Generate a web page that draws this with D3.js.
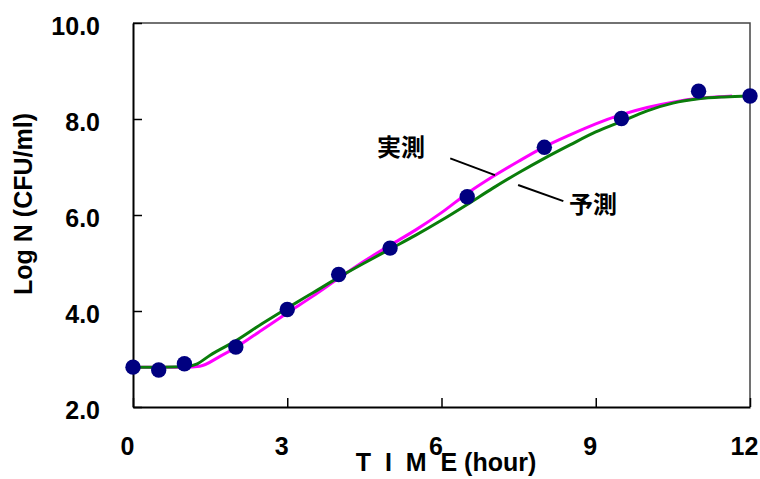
<!DOCTYPE html>
<html>
<head>
<meta charset="utf-8">
<script src="https://cdn.jsdelivr.net/npm/d3@7"></script>
<style>
  html, body { margin: 0; padding: 0; background: #fff; }
  svg { display: block; }
</style>
</head>
<body>
<div id="chart"></div>
<script>
// ---- data ----
const obsTime  = [0, 0.5, 1, 2, 3, 4, 5, 6.5, 8, 9.5, 11, 12];
const obsLogN  = [2.83, 2.77, 2.90, 3.25, 4.03, 4.76, 5.31, 6.38, 7.41, 8.01, 8.58, 8.48];

// 実測 curve (magenta)
const fitTime  = [0, 0.5, 1.0, 1.3, 1.7, 2.0, 2.5, 3.0, 3.5, 4.0, 4.5, 5.0, 5.5, 6.0, 6.5, 7.0, 7.5, 8.0, 8.5, 9.0, 9.5, 10.0, 10.5, 11.0, 11.5, 11.65];
const fitLogN  = [2.83, 2.83, 2.83, 2.85, 3.06, 3.24, 3.60, 3.96, 4.31, 4.68, 5.04, 5.37, 5.69, 6.05, 6.45, 6.80, 7.12, 7.42, 7.67, 7.90, 8.09, 8.24, 8.35, 8.43, 8.47, 8.48];

// 予測 curve (green)
const predTime = [0, 0.5, 1.0, 1.25, 1.5, 2.0, 2.5, 3.0, 3.5, 4.0, 4.5, 5.0, 5.5, 6.0, 6.5, 7.0, 7.5, 8.0, 8.5, 9.0, 9.5, 10.0, 10.5, 11.0, 11.5, 12.0];
const predLogN = [2.83, 2.83, 2.84, 2.90, 3.08, 3.38, 3.73, 4.06, 4.38, 4.70, 5.00, 5.29, 5.58, 5.89, 6.22, 6.56, 6.88, 7.18, 7.46, 7.73, 7.95, 8.17, 8.33, 8.42, 8.46, 8.48];

const xTicks = [0, 3, 6, 9, 12];
const yTicks = [2, 4, 6, 8, 10];

// labels with their leader lines (data coordinates)
const noteText  = ["実測", "予測"];
const noteAt    = [[4.745, 7.23], [8.48, 6.04]];
const noteLines = [[[6.17, 7.18], [7.04, 6.83]], [[7.49, 6.625], [8.37, 6.29]]];

// ---- layout ----
const W = 760, H = 479;
const margin = {top: 23, right: 10, bottom: 72, left: 133};
const width = W - margin.left - margin.right;
const height = H - margin.top - margin.bottom;

const latin = "'Liberation Sans', Arial, sans-serif";
const cjk = "'Noto Sans CJK JP', 'Noto Sans', sans-serif";

const svg = d3.select("#chart").append("svg")
  .attr("width", W)
  .attr("height", H);

const g = svg.append("g")
  .attr("transform", `translate(${margin.left},${margin.top})`);

const x = d3.scaleLinear().domain([0, 12]).range([0, width]);
const y = d3.scaleLinear().domain([2, 10]).range([height, 0]);

// top and right frame (thin grey)
g.append("path")
  .attr("d", `M0,0H${width}V${height}`)
  .attr("fill", "none")
  .attr("stroke", "#444")
  .attr("stroke-width", 1.5);

// axes, ticks pointing inward
const yAxis = g.append("g")
  .call(d3.axisLeft(y).tickValues(yTicks).tickFormat(d3.format(".1f"))
    .tickSizeInner(-9).tickSizeOuter(0).tickPadding(33));

const xAxis = g.append("g")
  .attr("transform", `translate(0,${height})`)
  .call(d3.axisBottom(x).tickValues(xTicks).tickFormat(d3.format("d"))
    .tickSizeInner(-9).tickSizeOuter(0).tickPadding(30));

for (const ax of [xAxis, yAxis]) {
  ax.select(".domain").attr("stroke", "#000").attr("stroke-width", 2);
  ax.selectAll(".tick line").attr("stroke", "#000").attr("stroke-width", 1.5);
  ax.selectAll(".tick text")
    .attr("fill", "#000")
    .style("font-family", latin)
    .style("font-weight", "bold")
    .style("font-size", "25px");
}
yAxis.selectAll(".tick text").attr("dy", "0.44em");
xAxis.selectAll(".tick text").attr("x", -6);

// axis titles
svg.append("text")
  .attr("x", 446)
  .attr("y", 471)
  .attr("text-anchor", "middle")
  .style("white-space", "pre")
  .style("font-family", latin)
  .style("font-weight", "bold")
  .style("font-size", "25px")
  .text("T  I  M  E (hour)");

svg.append("text")
  .attr("transform", "translate(32,204) rotate(-90)")
  .attr("text-anchor", "middle")
  .style("font-family", latin)
  .style("font-weight", "bold")
  .style("font-size", "25px")
  .text("Log N (CFU/ml)");

// curves
const line = d3.line()
  .x(d => x(d[0]))
  .y(d => y(d[1]))
  .curve(d3.curveMonotoneX);

g.append("path")
  .datum(d3.zip(fitTime, fitLogN))
  .attr("d", line)
  .attr("fill", "none")
  .attr("stroke", "#ff00ff")
  .attr("stroke-width", 3);

g.append("path")
  .datum(d3.zip(predTime, predLogN))
  .attr("d", line)
  .attr("fill", "none")
  .attr("stroke", "#0a7d0a")
  .attr("stroke-width", 3);

// observed points
g.selectAll("circle")
  .data(d3.zip(obsTime, obsLogN))
  .enter()
  .append("circle")
  .attr("cx", d => x(d[0]))
  .attr("cy", d => y(d[1]))
  .attr("r", 7.7)
  .attr("fill", "#000080");

// annotations
g.selectAll(".leader")
  .data(noteLines)
  .enter()
  .append("line")
  .attr("class", "leader")
  .attr("x1", d => x(d[0][0]))
  .attr("y1", d => y(d[0][1]))
  .attr("x2", d => x(d[1][0]))
  .attr("y2", d => y(d[1][1]))
  .attr("stroke", "#000")
  .attr("stroke-width", 2);

g.selectAll(".note")
  .data(noteText)
  .enter()
  .append("text")
  .attr("class", "note")
  .attr("x", (d, i) => x(noteAt[i][0]))
  .attr("y", (d, i) => y(noteAt[i][1]))
  .style("font-family", cjk)
  .style("font-weight", "bold")
  .style("font-size", "24px")
  .text(d => d);
</script>
</body>
</html>
